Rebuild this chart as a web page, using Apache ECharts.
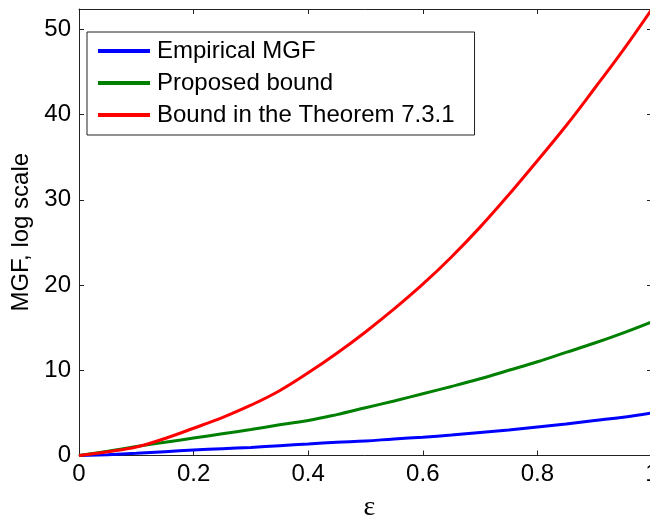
<!DOCTYPE html>
<html>
<head>
<meta charset="utf-8">
<script src="https://cdn.jsdelivr.net/npm/echarts@6/dist/echarts.min.js"></script>
<style>html,body{margin:0;padding:0;background:#fff;overflow:hidden}#c{width:650px;height:515px}</style>
</head>
<body>
<div id="c"></div>
<script>
var epsilon = [0,0.05,0.1,0.15,0.2,0.25,0.3,0.35,0.4,0.45,0.5,0.55,0.6,0.65,0.7,0.75,0.8,0.85,0.9,0.95,1.0];
var empiricalMGF = [0,0.1,0.25,0.45,0.65,0.8,0.95,1.15,1.35,1.55,1.7,1.95,2.15,2.4,2.7,3.0,3.35,3.7,4.1,4.5,5.0];
var proposedBound = [0,0.5,1.05,1.55,2.05,2.55,3.05,3.6,4.1,4.8,5.6,6.4,7.25,8.1,9.0,10.0,11.0,12.1,13.2,14.4,15.7];
var theoremBound = [0,0.45,1.0,2.0,3.2,4.45,5.9,7.6,9.7,12.0,14.5,17.2,20.1,23.3,26.8,30.6,34.6,38.7,43.1,47.6,52.4];
var xTicks = [0,0.2,0.4,0.6,0.8,1];
var yTicks = [0,10,20,30,40,50];
var names = ['Empirical MGF','Proposed bound','Bound in the Theorem 7.3.1'];

function pairs(xs, ys){ return xs.map(function(x,i){ return [x, ys[i]]; }); }
var FONT = 'Liberation Sans, Arial, sans-serif';
var chart = echarts.init(document.getElementById('c'), null, {renderer:'canvas'});
var axisLine = {show:true, onZero:false, lineStyle:{color:'#222', width:1}};
var axisTick = {show:true, inside:true, length:5, lineStyle:{color:'#222', width:1}};
function yFmt(v){ return yTicks.indexOf(v) >= 0 ? String(v) : ''; }
function xFmt(v){ var r = Math.round(v*10)/10; return (xTicks.indexOf(r) >= 0 && Math.abs(r - v) < 1e-9) ? String(r) : ''; }
chart.setOption({
  animation:false,
  backgroundColor:'#fff',
  grid:{left:79, right:-2, top:9, bottom:59.5, containLabel:false, outerBoundsMode:'none'},
  legend:{
    orient:'vertical', left:87, top:32,
    data:names,
    icon:'rect', itemWidth:52, itemHeight:4, itemGap:8,
    padding:[7,20,8,11],
    borderColor:'#222', borderWidth:1, backgroundColor:'#fff',
    textStyle:{fontFamily:FONT, fontSize:24, color:'#000', lineHeight:24, padding:[0,0,0,2]}
  },
  xAxis:[{
    type:'value', min:0, max:1, interval:0.2, position:'bottom',
    name:'ε', nameLocation:'middle', nameGap:38,
    nameTextStyle:{fontFamily:'Liberation Serif, DejaVu Serif, serif', fontSize:28, color:'#000', padding:[0,0,0,8]},
    axisLine:axisLine, axisTick:axisTick, splitLine:{show:false},
    axisLabel:{fontFamily:FONT, fontSize:24, color:'#000', margin:7, formatter:xFmt}
  },{
    type:'value', min:0, max:1, interval:0.2, position:'top',
    axisLine:axisLine, axisTick:axisTick, splitLine:{show:false}, axisLabel:{show:false}
  }],
  yAxis:[{
    type:'value', min:0, max:52.4, interval:10, position:'left',
    name:'MGF, log scale', nameLocation:'middle', nameGap:42,
    nameTextStyle:{fontFamily:FONT, fontSize:24, color:'#000'},
    axisLine:axisLine, axisTick:axisTick, splitLine:{show:false},
    axisLabel:{fontFamily:FONT, fontSize:24, color:'#000', margin:8, formatter:yFmt, showMaxLabel:false}
  },{
    type:'value', min:0, max:52.4, interval:10, position:'right',
    axisLine:axisLine, axisTick:axisTick, splitLine:{show:false}, axisLabel:{show:false}
  }],
  series:[
    {name:names[0], type:'line', data:pairs(epsilon, empiricalMGF), symbol:'none', smooth:0.4, color:'#0000ff', lineStyle:{width:3, color:'#0000ff'}, z:3},
    {name:names[1], type:'line', data:pairs(epsilon, proposedBound), symbol:'none', smooth:0.4, color:'#008000', lineStyle:{width:3, color:'#008000'}, z:4},
    {name:names[2], type:'line', data:pairs(epsilon, theoremBound), symbol:'none', smooth:0.4, color:'#ff0000', lineStyle:{width:3, color:'#ff0000'}, z:5}
  ]
});
</script>
</body>
</html>
